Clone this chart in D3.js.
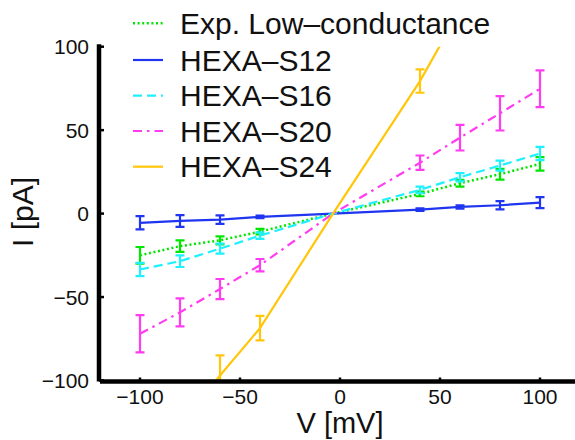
<!DOCTYPE html>
<html>
<head>
<meta charset="utf-8">
<script src="https://cdn.jsdelivr.net/npm/d3@7"></script>
<style>
  html, body { margin: 0; padding: 0; background: #fff; }
  svg { display: block; font-family: "Liberation Sans", Arial, Helvetica, sans-serif; }
</style>
</head>
<body>
<svg id="chart" width="575" height="440"></svg>
<script>
// Holding potentials (mV); all traces cross at the reversal potential
const voltages = [-100, -80, -60, -40, 40, 60, 80, 100];
const reversal = -3.5;

// Mean currents (pA) and error-bar half-widths per data set
const expLow   = [-25, -19.5, -16, -10.8, 11.8, 18.2, 23.6, 29.8];
const expLowE  = [5, 3.4, 2.4, 1.6, 1.4, 2, 3.2, 4];
const s12      = [-5.5, -4.4, -3.6, -2, 2.4, 4, 5, 6.6];
const s12E     = [4, 3.5, 2.5, 0.8, 0.8, 1, 2.5, 3.3];
const s16      = [-33.5, -28.5, -21, -13.2, 14.2, 21.8, 28.8, 36];
const s16E     = [4, 3.5, 3, 2, 2, 2.5, 3, 4];
const s20      = [-72, -59.2, -45.2, -30.9, 30.5, 45.5, 60.1, 74.8];
const s20E     = [11.2, 8.4, 6, 3.7, 4.3, 7.7, 10.3, 11];
const s24      = [null, -128, -97, -68.6, 79.4, 122, null, null];
const s24E     = [null, 12, 12, 7.3, 7, 10, null, null];

const seriesNames = ["Exp. Low\u2013conductance", "HEXA\u2013S12", "HEXA\u2013S16", "HEXA\u2013S20", "HEXA\u2013S24"];
const xTicks = [-100, -50, 0, 50, 100];
const yTicks = [-100, -50, 0, 50, 100];

const series = [
  { name: seriesNames[0], vals: expLow, err: expLowE, color: "#00e600", dash: "2,2.6", width: 2.5 },
  { name: seriesNames[1], vals: s12,    err: s12E,    color: "#1f35f0", dash: null,    width: 2.2 },
  { name: seriesNames[2], vals: s16,    err: s16E,    color: "#1ff0ff", dash: "9,5",   width: 2.2 },
  { name: seriesNames[3], vals: s20,    err: s20E,    color: "#ff3cf0", dash: "9,5,2.5,5", width: 2.2 },
  { name: seriesNames[4], vals: s24,    err: s24E,    color: "#ffc60a", dash: null,    width: 2.2 }
];

const svg = d3.select("#chart");
const x = d3.scaleLinear().domain([-120, 120]).range([100, 580]);
const y = d3.scaleLinear().domain([-100, 100]).range([380.5, 46.7]);

svg.append("defs").append("clipPath").attr("id", "plot")
  .append("rect")
  .attr("x", x(-120)).attr("y", y(100))
  .attr("width", x(120) - x(-120)).attr("height", y(-100) - y(100));

const plot = svg.append("g").attr("clip-path", "url(#plot)");

series.forEach(s => {
  const pts = voltages.map((v, i) => ({ v, i: s.vals[i], e: s.err[i] }));
  const withRev = pts.filter(p => p.v < reversal)
    .concat([{ v: reversal, i: 0, e: null }])
    .concat(pts.filter(p => p.v > reversal));

  const line = d3.line()
    .defined(p => p.i != null)
    .x(p => x(p.v)).y(p => y(p.i));

  plot.append("path")
    .datum(withRev)
    .attr("fill", "none")
    .attr("stroke", s.color)
    .attr("stroke-width", s.width)
    .attr("stroke-dasharray", s.dash)
    .attr("d", line);

  // error bars with caps
  const bars = plot.append("g").attr("stroke", s.color).attr("stroke-width", 2.2);
  pts.filter(p => p.i != null && p.e != null).forEach(p => {
    const cx = x(p.v), y1 = y(p.i + p.e), y2 = y(p.i - p.e);
    bars.append("line").attr("x1", cx).attr("x2", cx).attr("y1", y1).attr("y2", y2);
    bars.append("line").attr("x1", cx - 4.5).attr("x2", cx + 4.5).attr("y1", y1).attr("y2", y1);
    bars.append("line").attr("x1", cx - 4.5).attr("x2", cx + 4.5).attr("y1", y2).attr("y2", y2);
  });
});

// axes
const axisY = y(-100) + 1;
svg.append("line")
  .attr("x1", x(-120)).attr("x2", x(120))
  .attr("y1", axisY).attr("y2", axisY)
  .attr("stroke", "#000").attr("stroke-width", 4.5);
svg.append("line")
  .attr("x1", 99).attr("x2", 99)
  .attr("y1", y(100) - 2.5).attr("y2", axisY)
  .attr("stroke", "#000").attr("stroke-width", 4.5);

const fmt = d => (d < 0 ? "\u2212" + Math.abs(d) : String(d));

const xAxis = svg.append("g");
xTicks.forEach(t => {
  xAxis.append("line")
    .attr("x1", x(t)).attr("x2", x(t))
    .attr("y1", axisY).attr("y2", axisY - 4)
    .attr("stroke", "#000").attr("stroke-width", 2.5);
  xAxis.append("text")
    .attr("x", x(t)).attr("y", 404)
    .attr("text-anchor", "middle")
    .attr("font-size", 21).attr("fill", "#111")
    .text(fmt(t));
});

const yAxis = svg.append("g");
yTicks.forEach(t => {
  yAxis.append("line")
    .attr("x1", 99).attr("x2", 104)
    .attr("y1", y(t)).attr("y2", y(t))
    .attr("stroke", "#000").attr("stroke-width", 2.5);
  yAxis.append("text")
    .attr("x", 89).attr("y", y(t) + 7.5)
    .attr("text-anchor", "end")
    .attr("font-size", 21).attr("fill", "#111")
    .text(fmt(t));
});

svg.append("text")
  .attr("x", 340).attr("y", 433)
  .attr("text-anchor", "middle")
  .attr("font-size", 29).attr("fill", "#111")
  .text("V [mV]");

svg.append("text")
  .attr("transform", "translate(33,212) rotate(-90)")
  .attr("text-anchor", "middle")
  .attr("font-size", 30).attr("fill", "#111")
  .text("I [pA]");

// legend
const legendRows = [23.3, 60, 95.7, 131, 166.7];
const legend = svg.append("g");
series.forEach((s, k) => {
  const ry = legendRows[k];
  legend.append("line")
    .attr("x1", 133).attr("x2", 163)
    .attr("y1", ry).attr("y2", ry)
    .attr("stroke", s.color)
    .attr("stroke-width", s.width)
    .attr("stroke-dasharray", s.dash);
  legend.append("text")
    .attr("x", 180).attr("y", ry + 10.5)
    .attr("font-size", 30).attr("fill", "#111")
    .text(s.name);
});
</script>
</body>
</html>
